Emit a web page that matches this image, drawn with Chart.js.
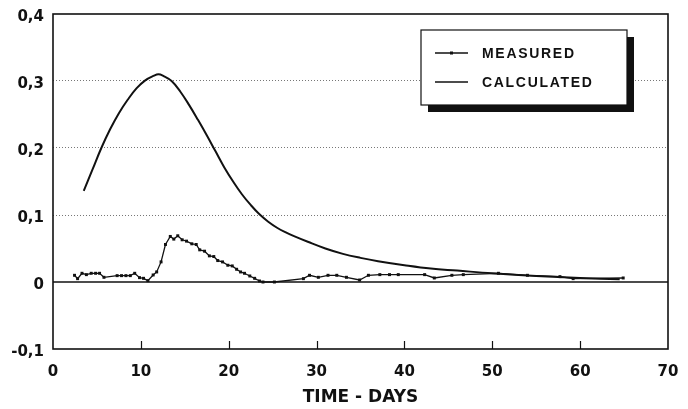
<!DOCTYPE html>
<html>
<head>
<meta charset="utf-8">
<script src="https://cdn.jsdelivr.net/npm/chart.js@4.4.0/dist/chart.umd.min.js"></script>
<style>
  html, body { margin: 0; padding: 0; background: #fff; }
</style>
</head>
<body>
<canvas id="chart" width="688" height="409"></canvas>
<script>
// Measured values (days, value)
const measuredDays = [2.45, 2.8, 3.3, 3.8, 4.35, 4.85, 5.3, 5.8, 7.3, 7.8, 8.3, 8.8, 9.3, 9.85, 10.3, 10.8, 11.4, 11.8, 12.3, 12.8,
    13.35, 13.75, 14.2, 14.7, 15.2, 15.8, 16.3, 16.7, 17.25, 17.8, 18.3, 18.75, 19.3, 19.9, 20.4, 20.9, 21.35, 21.8, 22.4, 22.95,
    23.5, 23.9, 25.2, 28.5, 29.2, 30.2, 31.3, 32.3, 33.4, 34.9, 35.9, 37.2, 38.3, 39.3, 42.3, 43.4, 45.4, 46.7, 50.7, 54, 57.7, 59.2, 64.9];
const measuredValues = [0.010, 0.005, 0.013, 0.011, 0.013, 0.013, 0.013, 0.007, 0.0095, 0.0095, 0.0095, 0.0095, 0.013, 0.0065, 0.0055, 0.002, 0.0105, 0.015, 0.030, 0.056,
    0.068, 0.064, 0.069, 0.063, 0.061, 0.057, 0.056, 0.048, 0.046, 0.039, 0.038, 0.032, 0.030, 0.025, 0.024, 0.019, 0.015, 0.013, 0.009, 0.0055,
    0.0015, 0, 0, 0.005, 0.010, 0.007, 0.010, 0.010, 0.007, 0.003, 0.010, 0.011, 0.011, 0.011, 0.011, 0.006, 0.010, 0.011, 0.013, 0.010, 0.008, 0.005, 0.006];

// Calculated curve
const calculatedDays = [3.5, 4.5, 5.5, 6.5, 7.5, 8.5, 9.5, 10.5, 11.5, 12, 12.5, 13.5, 14.5, 15.5, 16.5, 17.5, 18.5, 19.5, 20.5, 21.5,
    22.5, 23.5, 24.5, 25.5, 26.5, 27.5, 29, 31, 33, 35, 37, 40, 43, 46, 50, 55, 60, 64.5];
const calculatedValues = [0.136, 0.168, 0.2, 0.228, 0.252, 0.272, 0.289, 0.301, 0.308, 0.310, 0.308, 0.300, 0.284, 0.264, 0.242, 0.219, 0.195, 0.171, 0.150, 0.131,
    0.115, 0.101, 0.090, 0.081, 0.074, 0.068, 0.060, 0.050, 0.042, 0.036, 0.031, 0.025, 0.020, 0.017, 0.013, 0.009, 0.006, 0.004];

const xTicks = [0, 10, 20, 30, 40, 50, 60, 70];
const yTicks = [-0.1, 0, 0.1, 0.2, 0.3, 0.4];
const seriesLabels = ['MEASURED', 'CALCULATED'];
const xTitle = 'TIME - DAYS';

const toPoints = (xs, ys) => xs.map((x, i) => ({ x: x, y: ys[i] }));
const tickFont = { family: "'DejaVu Sans', sans-serif", size: 15, weight: 'bold' };

// Frame, zero line, inward ticks and the shadowed legend box
const framePlugin = {
    id: 'frame',
    beforeDatasetsDraw(chart) {
        const { ctx, chartArea: a, scales: { y } } = chart;
        const y0 = y.getPixelForValue(0);
        ctx.save();
        ctx.strokeStyle = '#111';
        ctx.lineWidth = 1.6;
        ctx.beginPath();
        ctx.moveTo(a.left, y0);
        ctx.lineTo(a.right, y0);
        ctx.stroke();
        ctx.restore();
    },
    afterDraw(chart) {
        const { ctx, chartArea: a, scales: { x } } = chart;
        ctx.save();
        ctx.strokeStyle = '#111';
        ctx.lineWidth = 1.6;
        ctx.strokeRect(a.left, a.top, a.right - a.left, a.bottom - a.top);

        // tick marks pointing into the plot
        ctx.lineWidth = 1.2;
        xTicks.slice(1, -1).forEach(v => {
            const px = Math.round(x.getPixelForValue(v)) + 0.5;
            ctx.beginPath();
            ctx.moveTo(px, a.bottom);
            ctx.lineTo(px, a.bottom - 8);
            ctx.stroke();
        });

        // legend
        const bx = a.right - 247, by = a.top + 16, bw = 206, bh = 75;
        ctx.fillStyle = '#111';
        ctx.fillRect(bx + 7, by + 7, bw, bh);
        ctx.fillStyle = '#fff';
        ctx.fillRect(bx, by, bw, bh);
        ctx.lineWidth = 1.2;
        ctx.strokeRect(bx, by, bw, bh);

        const rows = [by + 23, by + 52];
        ctx.font = "bold 14px 'Liberation Sans', Arial, sans-serif";
        ctx.letterSpacing = '1.7px';
        ctx.textBaseline = 'middle';
        ctx.fillStyle = '#111';
        chart.data.datasets.forEach((ds, i) => {
            const ry = rows[i];
            ctx.lineWidth = 1.4;
            ctx.beginPath();
            ctx.moveTo(bx + 14, ry);
            ctx.lineTo(bx + 47, ry);
            ctx.stroke();
            if (ds.pointRadius > 0) {
                ctx.fillRect(bx + 29, ry - 1.5, 3, 3);
            }
            ctx.fillText(ds.label, bx + 61, ry + 1);
        });
        ctx.restore();
    }
};

new Chart(document.getElementById('chart'), {
    type: 'line',
    data: {
        datasets: [
            {
                label: seriesLabels[0],
                data: toPoints(measuredDays, measuredValues),
                borderColor: '#111',
                backgroundColor: '#111',
                borderWidth: 1.3,
                pointStyle: 'rect',
                pointRadius: 2.1,
                pointBorderWidth: 0,
                tension: 0
            },
            {
                label: seriesLabels[1],
                data: toPoints(calculatedDays, calculatedValues),
                borderColor: '#111',
                borderWidth: 2,
                pointRadius: 0,
                tension: 0.4
            }
        ]
    },
    options: {
        responsive: false,
        animation: false,
        events: [],
        layout: { padding: { top: 14, right: 20, bottom: 0, left: 0 } },
        plugins: {
            legend: { display: false },
            tooltip: { enabled: false }
        },
        scales: {
            x: {
                type: 'linear',
                min: 0,
                max: 70,
                afterBuildTicks: s => { s.ticks = xTicks.map(v => ({ value: v })); },
                afterFit: s => { s.height = 60; },
                grid: { display: false, drawTicks: true, tickLength: 14 },
                border: { display: false },
                ticks: {
                    color: '#111',
                    font: tickFont,
                    padding: 0,
                    maxRotation: 0
                },
                title: {
                    display: true,
                    text: xTitle,
                    color: '#111',
                    font: { family: "'DejaVu Sans', sans-serif", size: 17, weight: 'bold' },
                    padding: { top: 0, bottom: 1 }
                }
            },
            y: {
                min: -0.1,
                max: 0.4,
                afterBuildTicks: s => { s.ticks = yTicks.map(v => ({ value: v })); },
                afterFit: s => { s.width = 53; },
                border: { display: false, dash: [1, 2] },
                grid: {
                    drawTicks: true,
                    tickLength: 9,
                    tickColor: 'rgba(0,0,0,0)',
                    lineWidth: 1,
                    color: c => {
                        const v = Math.round(c.tick.value * 10);
                        return (v >= 1 && v <= 3) ? '#777' : 'rgba(0,0,0,0)';
                    }
                },
                ticks: {
                    color: '#111',
                    font: tickFont,
                    padding: 0,
                    labelOffset: 3,
                    callback: v => {
                        const r = Math.round(v * 10) / 10;
                        return r === 0 ? '0' : r.toFixed(1).replace('.', ',');
                    }
                }
            }
        }
    },
    plugins: [framePlugin]
});
</script>
</body>
</html>
